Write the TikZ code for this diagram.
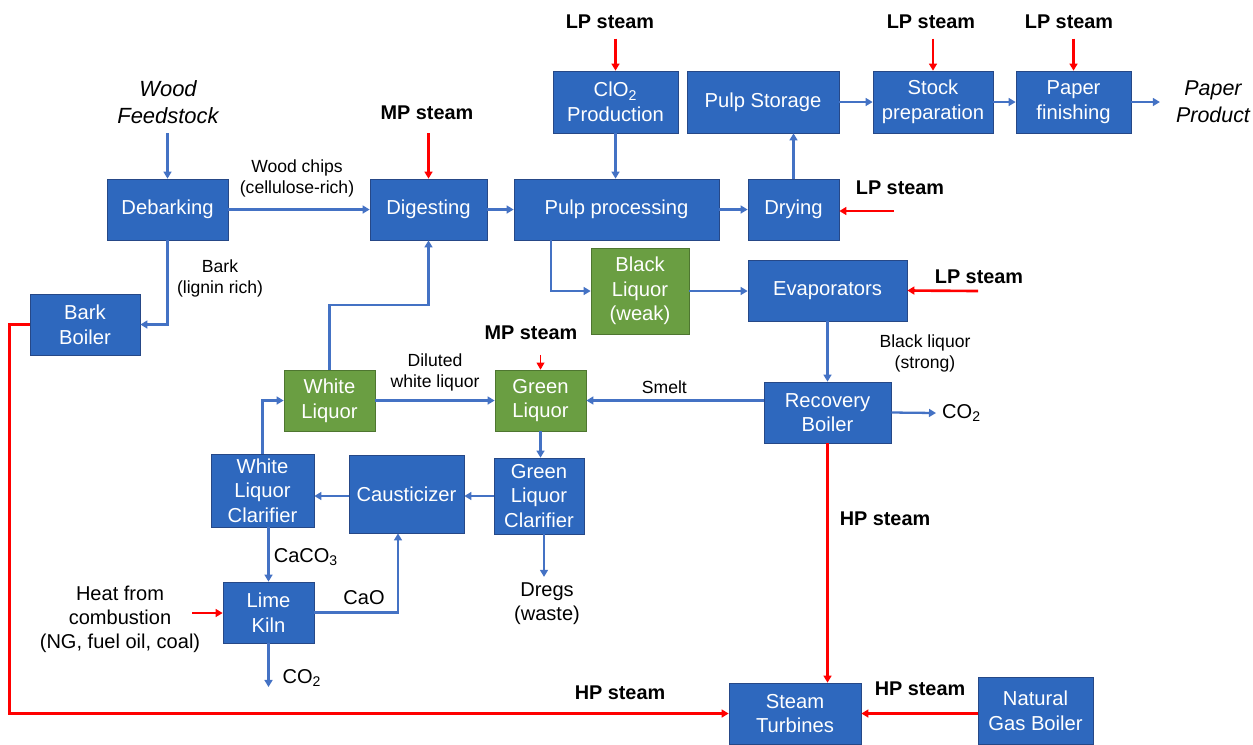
\documentclass[tikz,border=0pt]{standalone}
\usepackage{fontspec}
\setmainfont{Liberation Sans}
\usetikzlibrary{arrows.meta}

\definecolor{boxblue}{RGB}{46,104,190}
\definecolor{boxedge}{RGB}{38,72,135}
\definecolor{liqgreen}{RGB}{106,158,66}
\definecolor{liqedge}{RGB}{78,118,48}
\definecolor{flowblue}{RGB}{68,114,196}

\tikzset{
  box/.style={draw=boxedge, fill=boxblue, text=white, align=center, inner sep=1pt,
    font=\fontsize{11.5}{14}\selectfont},
  liq/.style={box, draw=liqedge, fill=liqgreen},
  lbl/.style={align=center, font=\fontsize{10}{12}\selectfont},
  biglbl/.style={align=center, font=\fontsize{11.4}{13.6}\selectfont},
  stm/.style={font=\bfseries\fontsize{11.3}{13}\selectfont},
  flow/.style={draw=flowblue, line width=1.3pt, -{Triangle[length=4pt,width=4.5pt]}},
  steam/.style={draw=red, line width=1.5pt, -{Triangle[length=4pt,width=4.5pt]}}
}

\begin{document}
\begin{tikzpicture}
  \useasboundingbox (0,0) rectangle (25.06,-14.88);

  % process units
  \node[box, minimum width=2.42cm, minimum height=1.22cm] (debark) at (3.35,-4.19) {Debarking};
  \node[box, minimum width=2.34cm, minimum height=1.22cm] (digest) at (8.57,-4.19) {Digesting};
  \node[box, minimum width=4.1cm, minimum height=1.22cm] (pulpproc) at (12.33,-4.19) {Pulp processing};
  \node[box, minimum width=1.82cm, minimum height=1.22cm] (drying) at (15.87,-4.19) {Drying};
  \node[box, minimum width=2.5cm, minimum height=1.24cm] (clo) at (12.31,-2.04) {ClO\textsubscript{2}\\Production};
  \node[box, minimum width=3.04cm, minimum height=1.24cm] (storage) at (15.26,-2.04) {Pulp Storage};
  \node[box, minimum width=2.4cm, minimum height=1.24cm] (stock) at (18.66,-2.04) {Stock\\preparation};
  \node[box, minimum width=2.3cm, minimum height=1.24cm] (paper) at (21.47,-2.04) {Paper\\finishing};
  \node[liq, minimum width=1.96cm, minimum height=1.72cm] (blackliq) at (12.8,-5.82) {Black\\Liquor\\(weak)};
  \node[box, minimum width=3.18cm, minimum height=1.22cm] (evap) at (16.55,-5.81) {Evaporators};
  \node[box, minimum width=2.2cm, minimum height=1.22cm] (barkboil) at (1.7,-6.49) {Bark\\Boiler};
  \node[liq, minimum width=1.82cm, minimum height=1.22cm] (whiteliq) at (6.59,-8.01) {White\\Liquor};
  \node[liq, minimum width=1.82cm, minimum height=1.22cm] (greenliq) at (10.81,-8.01) {Green\\Liquor};
  \node[box, minimum width=2.54cm, minimum height=1.22cm] (recovery) at (16.55,-8.25) {Recovery\\Boiler};
  \node[box, minimum width=2.06cm, minimum height=1.46cm] (wlclar) at (5.25,-9.81) {White\\Liquor\\Clarifier};
  \node[box, minimum width=2.3cm, minimum height=1.56cm] (caust) at (8.13,-9.88) {Causticizer};
  \node[box, minimum width=1.8cm, minimum height=1.52cm] (glclar) at (10.78,-9.92) {Green\\Liquor\\Clarifier};
  \node[box, minimum width=1.82cm, minimum height=1.22cm] (kiln) at (5.37,-12.25) {Lime\\Kiln};
  \node[box, minimum width=2.64cm, minimum height=1.22cm] (turb) at (15.9,-14.27) {Steam\\Turbines};
  \node[box, minimum width=2.3cm, minimum height=1.34cm] (ngboil) at (20.71,-14.21) {Natural\\Gas Boiler};

  % texts
  \node[align=center, font=\itshape\fontsize{12.5}{15.3}\selectfont] (wood) at (3.36,-2.04) {Wood\\Feedstock};
  \node[align=center, inner sep=1pt, font=\itshape\fontsize{12.2}{15.3}\selectfont] (product) at (24.26,-2.04) {Paper\\Product};
  \node[lbl] (chips) at (5.94,-3.56) {Wood chips\\(cellulose-rich)};
  \node[lbl] (bark) at (4.4,-5.56) {Bark\\(lignin rich)};
  \node[lbl] (strong) at (18.5,-7.06) {Black liquor\\(strong)};
  \node[lbl] (diluted) at (8.7,-7.44) {Diluted\\white liquor};
  \node[biglbl] (caco) at (6.12,-11.14) {CaCO\textsubscript{3}};
  \node[biglbl] (cao) at (7.28,-11.96) {CaO};
  \node[biglbl] (heat) at (2.4,-12.38) {Heat from\\combustion\\(NG, fuel oil, coal)};
  \node[biglbl] (co2b) at (6.04,-13.56) {CO\textsubscript{2}};
  \node[biglbl] (dregs) at (10.94,-12.08) {Dregs\\(waste)};
  \node[biglbl, anchor=west] (co2a) at (18.72,-8.26) {CO\textsubscript{2}};

  \node[stm] (lp1) at (12.2,-0.44) {LP steam};
  \node[stm] (lp2) at (18.62,-0.44) {LP steam};
  \node[stm] (lp3) at (21.38,-0.44) {LP steam};
  \node[stm] (lp4) at (18.0,-3.76) {LP steam};
  \node[stm] (lp5) at (19.58,-5.54) {LP steam};
  \node[stm] (mp1) at (8.54,-2.26) {MP steam};
  \node[stm] (mp2) at (10.62,-6.66) {MP steam};
  \node[stm] (hp1) at (17.7,-10.38) {HP steam};
  \node[stm] (hp2) at (18.4,-13.78) {HP steam};
  \node[stm] (hp3) at (12.4,-13.86) {HP steam};

  \coordinate (lp4in) at (17.88,-4.22);
  \coordinate (lp5in) at (19.56,-5.82);
  \coordinate (heatin) at (3.84,-12.26);
  \coordinate (kilnout) at (5.37,-13.74);

  % blue flows
  \draw[flow, shorten <=2pt] (wood.south -| debark.north) -- (debark.north);
  \draw[flow] (debark.east) -- (digest.west);
  \draw[flow] (debark.south) |- (barkboil.east);
  \draw[flow] (digest.east) -- (pulpproc.west);
  \draw[flow] (pulpproc.east) -- (drying.west);
  \draw[flow] (clo.south) -- (clo.south |- pulpproc.north);
  \draw[flow] (drying.north) -- (drying.north |- storage.south);
  \draw[flow] (storage.east) -- (stock.west);
  \draw[flow] (stock.east) -- (paper.west);
  \draw[flow, shorten >=8pt] (paper.east) -- (paper.east -| product.west);
  \draw[flow] ([xshift=-1.31cm]pulpproc.south) |- (blackliq.west);
  \draw[flow] (blackliq.east) -- (blackliq.east -| evap.west);
  \draw[flow] (evap.south) -- (recovery.north);
  \draw[flow] (recovery.east) -- (co2a.west);
  \draw[flow] (recovery.west |- greenliq.east) -- node[lbl, pos=0.56, above] (smelt) {Smelt} (greenliq.east);
  \draw[flow] (whiteliq.north) -- ++(0,1.3) -| (digest.south);
  \draw[flow] (whiteliq.east) -- (greenliq.west);
  \draw[flow] (wlclar.north) |- (whiteliq.west);
  \draw[flow] (greenliq.south) -- (greenliq.south |- glclar.north);
  \draw[flow] (glclar.west) -- (glclar.west -| caust.east);
  \draw[flow] (glclar.west -| caust.west) -- (glclar.west -| wlclar.east);
  \draw[flow] (kiln.north |- wlclar.south) -- (kiln.north);
  \draw[flow] (kiln.east) -| ([xshift=-0.17cm]caust.south);
  \draw[flow] (kiln.south) -- (kilnout);
  \draw[flow] ([xshift=0.1cm]glclar.south) -- ([xshift=0.1cm]glclar.south |- dregs.north);

  % steam
  \draw[steam, shorten <=2pt] (lp1.south -| clo.north) -- (clo.north);
  \draw[steam, shorten <=2pt] (lp2.south -| stock.north) -- (stock.north);
  \draw[steam, shorten <=2pt] (lp3.south -| paper.north) -- (paper.north);
  \draw[steam, shorten <=4pt] (mp1.south -| digest.north) -- (digest.north);
  \draw[steam] (lp4in) -- (lp4in -| drying.east);
  \draw[steam] (lp5in) -- (evap.east);
  \draw[steam, line width=0.5pt, shorten <=5pt] (mp2.south -| greenliq.north) -- (greenliq.north);
  \draw[steam] (recovery.south) -- (recovery.south |- turb.north);
  \draw[steam] (ngboil.west |- turb.east) -- (turb.east);
  \draw[steam] (barkboil.west) -- ++(-0.4,0) |- (turb.west);
  \draw[steam] (heatin) -- (heatin -| kiln.west);
\end{tikzpicture}
\end{document}
